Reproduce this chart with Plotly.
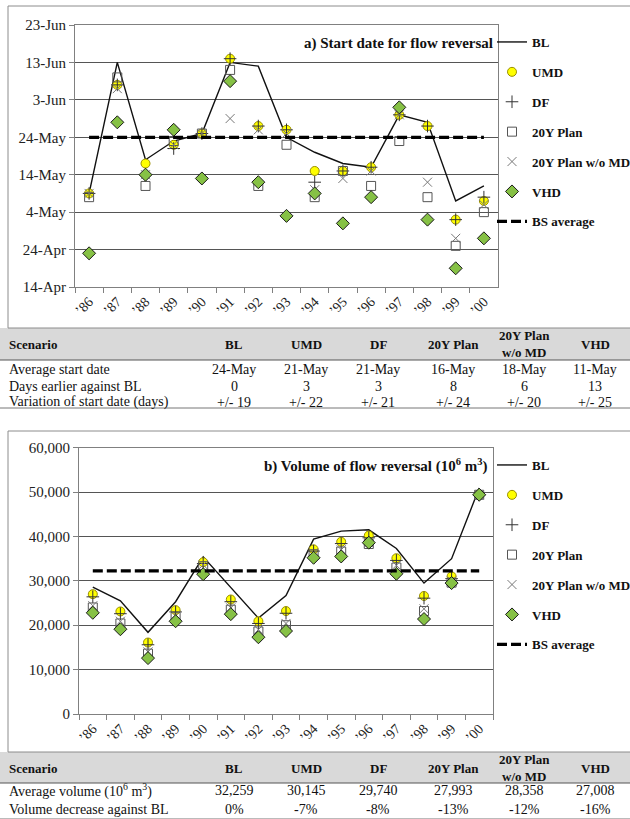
import plotly.graph_objects as go
import pandas as pd

# ---------------- data ----------------
years = ["’86", "’87", "’88", "’89", "’90", "’91", "’92", "’93", "’94", "’95", "’96", "’97", "’98", "’99", "’00"]

# a) start date for flow reversal (day-month)
start_BL = ["9-May", "13-Jun", "18-May", "23-May", "25-May", "13-Jun", "12-Jun", "24-May", "20-May", "17-May", "16-May", "30-May", "28-May", "7-May", "11-May"]
start_UMD = ["9-May", "7-Jun", "17-May", "22-May", "25-May", "14-Jun", "27-May", "26-May", "15-May", "15-May", "16-May", "30-May", "27-May", "2-May", "7-May"]
start_DF = ["9-May", "7-Jun", "14-May", "21-May", "25-May", "14-Jun", "27-May", "26-May", "12-May", "15-May", "16-May", "30-May", "27-May", "2-May", "8-May"]
start_20Y = ["8-May", "9-Jun", "11-May", "23-May", "25-May", "11-Jun", "11-May", "22-May", "8-May", "15-May", "11-May", "23-May", "8-May", "25-Apr", "4-May"]
start_20YwoMD = ["9-May", "6-Jun", "14-May", "22-May", "25-May", "29-May", "26-May", "25-May", "10-May", "13-May", "15-May", "30-May", "12-May", "27-Apr", "6-May"]
start_VHD = ["23-Apr", "28-May", "14-May", "26-May", "13-May", "8-Jun", "12-May", "3-May", "9-May", "1-May", "8-May", "1-Jun", "2-May", "19-Apr", "27-Apr"]
start_BS_avg = "24-May"

# b) volume of flow reversal (10^6 m3)
vol_BL = [28600, 25500, 18400, 25300, 35400, 28500, 21600, 26700, 39400, 41200, 41500, 37300, 29500, 35000, 50900]
vol_UMD = [27000, 23100, 16100, 23400, 34200, 25800, 20900, 23200, 37100, 38800, 40200, 35100, 26600, 31000, 49400]
vol_DF = [26400, 22600, 15600, 23000, 33900, 25300, 20400, 22700, 36700, 38400, 39700, 34600, 26100, 30500, 49400]
vol_20Y = [24000, 20400, 13600, 21900, 33300, 23500, 18600, 20000, 36000, 36600, 38300, 33000, 23200, 29600, 49400]
vol_20YwoMD = [24400, 20900, 14000, 22300, 33600, 23900, 19000, 20400, 36300, 37000, 38600, 33500, 23700, 30000, 49400]
vol_VHD = [22800, 19100, 12600, 20900, 31500, 22500, 17300, 18700, 35200, 35500, 38600, 31600, 21400, 29500, 49400]
vol_BS_avg = 32259

# tables
scenarios = ["BL", "UMD", "DF", "20Y Plan", "20Y Plan<br>w/o MD", "VHD"]
t1_labels = ["Average start date", "Days earlier against BL", "Variation of start date (days)"]
t1_avg_start = ["24-May", "21-May", "21-May", "16-May", "18-May", "11-May"]
t1_days_earlier = ["0", "3", "3", "8", "6", "13"]
t1_variation = ["+/- 19", "+/- 22", "+/- 21", "+/- 24", "+/- 20", "+/- 25"]
t2_labels = ["Average volume (10<sup>6</sup> m<sup>3</sup>)", "Volume decrease against BL"]
t2_avg_volume = ["32,259", "30,145", "29,740", "27,993", "28,358", "27,008"]
t2_decrease = ["0%", "-7%", "-8%", "-13%", "-12%", "-16%"]

# ---------------- helpers ----------------
W, H = 630, 819
def px(x): return x / W
def py(y): return 1 - y / H
def to_date(s): return pd.to_datetime(s + "-2000", format="%d-%b-%Y").strftime("%Y-%m-%d")

SERIF = "Liberation Serif, Times New Roman, serif"

styles = {
    "UMD": dict(symbol="circle", size=9, color="#ffff00", line=dict(color="#9a8f00", width=1)),
    "DF": dict(symbol="cross-thin", size=9, color="#333333", line=dict(color="#333333", width=1)),
    "20Y Plan": dict(symbol="square-open", size=9, color="#555555", line=dict(color="#555555", width=1)),
    "20Y Plan w/o MD": dict(symbol="x-thin", size=9, color="#777777", line=dict(color="#777777", width=1)),
    "VHD": dict(symbol="diamond", size=10, color="#86c145", line=dict(color="#1a1a1a", width=1)),
}

fig = go.Figure()

def add_panel(xa, ya, leg, bl, series, bs):
    fig.add_trace(go.Scatter(x=years, y=bl, name="BL", mode="lines",
                             line=dict(color="#111111", width=1.4),
                             xaxis=xa, yaxis=ya, legend=leg, legendgroup=leg + "BL"))
    for nm, vals in series:
        fig.add_trace(go.Scatter(x=years, y=vals, name=nm, mode="markers",
                                 marker=styles[nm], xaxis=xa, yaxis=ya,
                                 legend=leg, legendgroup=leg + nm))
    fig.add_trace(go.Scatter(x=years, y=[bs] * len(years), name="BS average", mode="lines",
                             line=dict(color="#000000", width=3.2, dash="10px,4px"),
                             xaxis=xa, yaxis=ya, legend=leg, legendgroup=leg + "BS"))

add_panel("x", "y", "legend", [to_date(s) for s in start_BL],
          [("UMD", [to_date(s) for s in start_UMD]),
           ("DF", [to_date(s) for s in start_DF]),
           ("20Y Plan", [to_date(s) for s in start_20Y]),
           ("20Y Plan w/o MD", [to_date(s) for s in start_20YwoMD]),
           ("VHD", [to_date(s) for s in start_VHD])],
          to_date(start_BS_avg))

add_panel("x2", "y2", "legend2", vol_BL,
          [("UMD", vol_UMD), ("DF", vol_DF), ("20Y Plan", vol_20Y),
           ("20Y Plan w/o MD", vol_20YwoMD), ("VHD", vol_VHD)],
          vol_BS_avg)

xcommon = dict(type="category", tickson="boundaries", ticks="outside", ticklen=5,
               tickcolor="#808080", tickangle=-45, showline=True, mirror=True,
               linecolor="#808080", linewidth=1, showgrid=False, zeroline=False,
               range=[-0.5, len(years) - 0.5],
               tickfont=dict(family=SERIF, size=14, color="#222222"))
ycommon = dict(ticks="outside", ticklen=5, tickcolor="#808080", showline=True, mirror=True,
               linecolor="#808080", linewidth=1, showgrid=True, gridcolor="#555555",
               gridwidth=1, zeroline=False,
               tickfont=dict(family=SERIF, size=15, color="#222222"))

legcommon = dict(xanchor="left", yanchor="top", bgcolor="rgba(0,0,0,0)",
                 font=dict(family=SERIF, size=13, color="#111111", weight="bold"),
                 tracegroupgap=10, itemwidth=30)

shapes = [
    # chart frames
    dict(type="rect", xref="paper", yref="paper", x0=px(8), x1=px(640), y0=py(328), y1=py(6),
         line=dict(color="#8c8c8c", width=1)),
    dict(type="rect", xref="paper", yref="paper", x0=px(8), x1=px(640), y0=py(752), y1=py(431),
         line=dict(color="#8c8c8c", width=1)),
    # table bands
    dict(type="rect", xref="paper", yref="paper", x0=0, x1=1, y0=py(360), y1=py(328),
         fillcolor="#d9d9d9", line=dict(width=0), layer="below"),
    dict(type="rect", xref="paper", yref="paper", x0=0, x1=1, y0=py(783), y1=py(752),
         fillcolor="#d9d9d9", line=dict(width=0), layer="below"),
    dict(type="line", xref="paper", yref="paper", x0=0, x1=1, y0=py(360), y1=py(360),
         line=dict(color="#555555", width=1)),
    dict(type="line", xref="paper", yref="paper", x0=0, x1=1, y0=py(408), y1=py(408),
         line=dict(color="#777777", width=1)),
    dict(type="line", xref="paper", yref="paper", x0=0, x1=1, y0=py(783), y1=py(783),
         line=dict(color="#555555", width=1)),
    dict(type="line", xref="paper", yref="paper", x0=0, x1=1, y0=py(818.5), y1=py(818.5),
         line=dict(color="#bbbbbb", width=1)),
]

annotations = [
    dict(text="<b>a) Start date for flow reversal</b>", xref="paper", yref="paper",
         x=px(495), y=py(43), xanchor="right", yanchor="middle", showarrow=False,
         font=dict(family=SERIF, size=15, color="#111111")),
    dict(text="<b>b) Volume of flow reversal (10<sup>6</sup> m<sup>3</sup>)</b>", xref="paper", yref="paper",
         x=px(490), y=py(465), xanchor="right", yanchor="middle", showarrow=False,
         font=dict(family=SERIF, size=15, color="#111111")),
]

col_x = [234, 306, 378, 453, 524, 595]
hdr_font = dict(family=SERIF, size=13, color="#111111")
row_font = dict(family=SERIF, size=14, color="#111111")

def add_table(header_y, row_ys, labels, rows):
    annotations.append(dict(text="<b>Scenario</b>", xref="paper", yref="paper", x=px(7), y=py(header_y),
                            xanchor="left", yanchor="middle", showarrow=False, font=hdr_font))
    for cx, name in zip(col_x, scenarios):
        annotations.append(dict(text="<b>" + name + "</b>", xref="paper", yref="paper", x=px(cx),
                                y=py(header_y), xanchor="center", yanchor="middle", showarrow=False,
                                font=hdr_font, align="center"))
    for ry, lab, vals in zip(row_ys, labels, rows):
        annotations.append(dict(text=lab, xref="paper", yref="paper", x=px(7), y=py(ry),
                                xanchor="left", yanchor="middle", showarrow=False, font=row_font))
        for cx, v in zip(col_x, vals):
            annotations.append(dict(text=v, xref="paper", yref="paper", x=px(cx), y=py(ry),
                                    xanchor="center", yanchor="middle", showarrow=False, font=row_font))

add_table(344, [370, 386, 402], t1_labels, [t1_avg_start, t1_days_earlier, t1_variation])
add_table(768, [790, 809], t2_labels, [t2_avg_volume, t2_decrease])

fig.update_layout(
    width=W, height=H, margin=dict(l=0, r=0, t=0, b=0, autoexpand=False),
    paper_bgcolor="white", plot_bgcolor="white",
    xaxis=dict(domain=[px(75), px(498)], anchor="y", **xcommon),
    yaxis=dict(domain=[py(287), py(25)], anchor="x", type="date",
               range=[to_date("14-Apr"), to_date("23-Jun")], tick0=to_date("14-Apr"),
               dtick=10 * 86400000, tickformat="%-d-%b", **ycommon),
    xaxis2=dict(domain=[px(79), px(493)], anchor="y2", **xcommon),
    yaxis2=dict(domain=[py(714), py(447.7)], anchor="x2", range=[0, 60000], dtick=10000,
                tickformat=",", **ycommon),
    legend=dict(x=px(492), y=py(27), **legcommon),
    legend2=dict(x=px(492), y=py(450), **legcommon),
    shapes=shapes, annotations=annotations,
    font=dict(family=SERIF),
)

fig.write_html("out.html", config={"displayModeBar": False},
               post_script="document.body.style.margin='0';document.body.style.overflow='hidden';")
